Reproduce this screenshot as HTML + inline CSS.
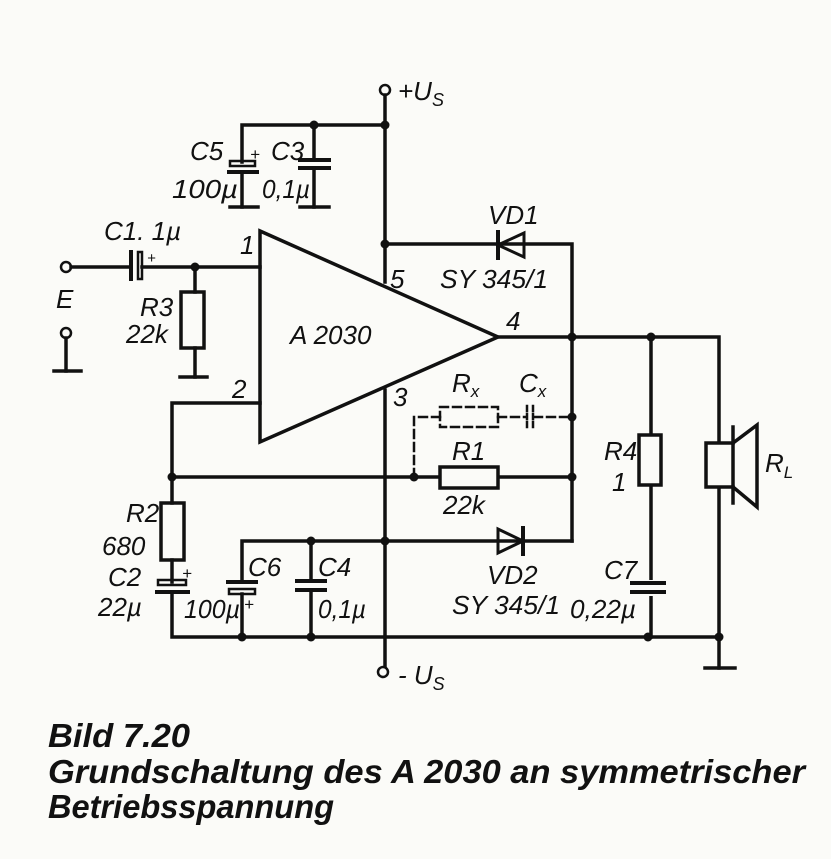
<!DOCTYPE html>
<html><head><meta charset="utf-8"><style>
html,body{margin:0;padding:0;background:#fbfbf8;}
svg{display:block}
text{font-family:"Liberation Sans",sans-serif;font-style:italic;fill:#111;}
</style></head><body>
<svg width="831" height="859" viewBox="0 0 831 859" xmlns="http://www.w3.org/2000/svg">
<g stroke="#111" stroke-width="3.5" fill="none" stroke-linecap="square">
<circle cx="385" cy="90" r="5" stroke-width="2.5" fill="#fbfbf8"/>
<line x1="385" y1="95" x2="385" y2="282"/>
<polyline points="242,162 242,125 385,125"/>
<line x1="314" y1="125" x2="314" y2="160"/>
<rect x="230" y="161" width="25" height="5" stroke-width="2.5"/>
<line x1="229" y1="172" x2="257" y2="172" stroke-width="4"/>
<line x1="242" y1="172" x2="242" y2="207"/>
<line x1="230" y1="207" x2="258" y2="207"/>
<line x1="300" y1="160" x2="329" y2="160" stroke-width="4"/>
<line x1="300" y1="168" x2="329" y2="168" stroke-width="4"/>
<line x1="314" y1="168" x2="314" y2="207"/>
<line x1="300" y1="207" x2="329" y2="207"/>
<polyline points="385,244 572,244 572,541"/>
<line x1="498" y1="232" x2="498" y2="258" stroke-width="4"/>
<polygon points="498,245 524,233 524,257" stroke-width="3"/>
<polygon points="260,231 260,442 498,337"/>
<circle cx="66" cy="267" r="5" stroke-width="2.5" fill="#fbfbf8"/>
<line x1="71" y1="267" x2="130" y2="267"/>
<line x1="131" y1="252" x2="131" y2="279" stroke-width="4"/>
<rect x="138" y="252" width="4" height="27" stroke-width="2.5"/>
<line x1="142" y1="267" x2="260" y2="267"/>
<line x1="195" y1="267" x2="195" y2="292"/>
<rect x="181" y="292" width="23" height="56"/>
<line x1="195" y1="348" x2="195" y2="377"/>
<line x1="180" y1="377" x2="207" y2="377"/>
<circle cx="66" cy="333" r="5" stroke-width="2.5" fill="#fbfbf8"/>
<line x1="66" y1="338" x2="66" y2="371"/>
<line x1="54" y1="371" x2="81" y2="371"/>
<polyline points="498,337 719,337 719,668"/>
<line x1="651" y1="337" x2="651" y2="637"/>
<line x1="705" y1="668" x2="735" y2="668"/>
<line x1="385" y1="390" x2="385" y2="667"/>
<circle cx="383" cy="672" r="5" stroke-width="2.5" fill="#fbfbf8"/>
<polyline points="260,403 172,403 172,503"/>
<line x1="172" y1="477" x2="572" y2="477"/>
<rect x="440" y="467" width="58" height="21" fill="#fbfbf8"/>
<g stroke-dasharray="8,5" stroke-width="2.5">
<polyline points="414,477 414,417 440,417"/>
<rect x="440" y="407" width="58" height="20"/>
<line x1="498" y1="417" x2="526" y2="417"/>
<line x1="534" y1="417" x2="572" y2="417"/>
<line x1="527" y1="406" x2="527" y2="428" stroke-dasharray="5,3"/>
<line x1="533" y1="406" x2="533" y2="428" stroke-dasharray="5,3"/>
</g>
<rect x="161" y="503" width="23" height="57"/>
<line x1="172" y1="560" x2="172" y2="582"/>
<rect x="158" y="580" width="28" height="5" stroke-width="2.5"/>
<line x1="157" y1="592" x2="188" y2="592" stroke-width="4"/>
<polyline points="172,592 172,637 719,637"/>
<polyline points="242,582 242,541 572,541"/>
<polygon points="498,529 498,553 523,541" stroke-width="3"/>
<line x1="523" y1="528" x2="523" y2="554" stroke-width="4"/>
<line x1="228" y1="582" x2="256" y2="582" stroke-width="4"/>
<rect x="229" y="589" width="26" height="5" stroke-width="2.5"/>
<line x1="242" y1="594" x2="242" y2="637"/>
<line x1="311" y1="541" x2="311" y2="581"/>
<line x1="297" y1="581" x2="325" y2="581" stroke-width="4"/>
<line x1="297" y1="590" x2="325" y2="590" stroke-width="4"/>
<line x1="311" y1="590" x2="311" y2="637"/>
<rect x="639" y="435" width="22" height="50" fill="#fbfbf8"/>
<rect x="632" y="580" width="32" height="16" fill="#fbfbf8" stroke="none"/>
<line x1="632" y1="583" x2="664" y2="583" stroke-width="4"/>
<line x1="632" y1="592" x2="664" y2="592" stroke-width="4"/>
<rect x="706" y="443" width="27" height="44" fill="#fbfbf8"/>
<polyline points="733,443 757,425 757,507 733,487"/>
<line x1="733" y1="427" x2="733" y2="443"/>
<line x1="733" y1="487" x2="733" y2="503"/>
</g>
<g fill="#111">
<circle cx="314" cy="125" r="4.5"/><circle cx="385" cy="125" r="4.5"/><circle cx="385" cy="244" r="4.5"/>
<circle cx="195" cy="267" r="4.5"/><circle cx="572" cy="337" r="4.5"/><circle cx="651" cy="337" r="4.5"/>
<circle cx="572" cy="417" r="4.5"/><circle cx="572" cy="477" r="4.5"/><circle cx="414" cy="477" r="4.5"/>
<circle cx="172" cy="477" r="4.5"/><circle cx="385" cy="541" r="4.5"/><circle cx="311" cy="541" r="4.5"/>
<circle cx="242" cy="637" r="4.5"/><circle cx="311" cy="637" r="4.5"/><circle cx="648" cy="637" r="4.5"/><circle cx="719" cy="637" r="4.5"/>
</g>
<g font-size="26">
<text x="398" y="100">+U<tspan font-size="18" dy="6">S</tspan></text>
<text x="190" y="160">C5</text><text x="250" y="160" font-size="17">+</text><text x="271" y="160">C3</text>
<text x="172" y="198" textLength="66" lengthAdjust="spacingAndGlyphs">100µ</text><text x="262" y="198" textLength="48" lengthAdjust="spacingAndGlyphs">0,1µ</text>
<text x="104" y="240">C1. 1µ</text><text x="147" y="263" font-size="15">+</text>
<text x="240" y="254">1</text>
<text x="56" y="308">E</text>
<text x="140" y="316">R3</text><text x="126" y="343">22k</text>
<text x="290" y="344">A 2030</text>
<text x="488" y="224">VD1</text><text x="440" y="288" textLength="108" lengthAdjust="spacingAndGlyphs">SY 345/1</text>
<text x="390" y="288">5</text><text x="506" y="330">4</text>
<text x="232" y="398">2</text><text x="393" y="406">3</text>
<text x="452" y="392">R<tspan font-size="17" dy="5">x</tspan></text>
<text x="519" y="392">C<tspan font-size="17" dy="5">x</tspan></text>
<text x="452" y="460">R1</text><text x="443" y="514">22k</text>
<text x="126" y="522">R2</text><text x="102" y="555">680</text>
<text x="108" y="586">C2</text><text x="182" y="579" font-size="17">+</text><text x="98" y="616">22µ</text>
<text x="248" y="576">C6</text><text x="244" y="610" font-size="17">+</text><text x="184" y="618" textLength="56" lengthAdjust="spacingAndGlyphs">100µ</text>
<text x="318" y="576">C4</text><text x="318" y="618" textLength="48" lengthAdjust="spacingAndGlyphs">0,1µ</text>
<text x="487" y="584">VD2</text><text x="452" y="614" textLength="108" lengthAdjust="spacingAndGlyphs">SY 345/1</text>
<text x="604" y="460">R4</text><text x="612" y="491">1</text>
<text x="604" y="579">C7</text><text x="570" y="618" textLength="66" lengthAdjust="spacingAndGlyphs">0,22µ</text>
<text x="765" y="472">R<tspan font-size="17" dy="6">L</tspan></text>
<text x="398" y="684">- U<tspan font-size="18" dy="6">S</tspan></text>
</g>
<g font-size="33" font-weight="bold">
<text x="48" y="747" textLength="142" lengthAdjust="spacingAndGlyphs">Bild 7.20</text>
<text x="48" y="783" textLength="757" lengthAdjust="spacingAndGlyphs">Grundschaltung des A 2030 an symmetrischer</text>
<text x="48" y="818" textLength="286" lengthAdjust="spacingAndGlyphs">Betriebsspannung</text>
</g>
</svg>
</body></html>
